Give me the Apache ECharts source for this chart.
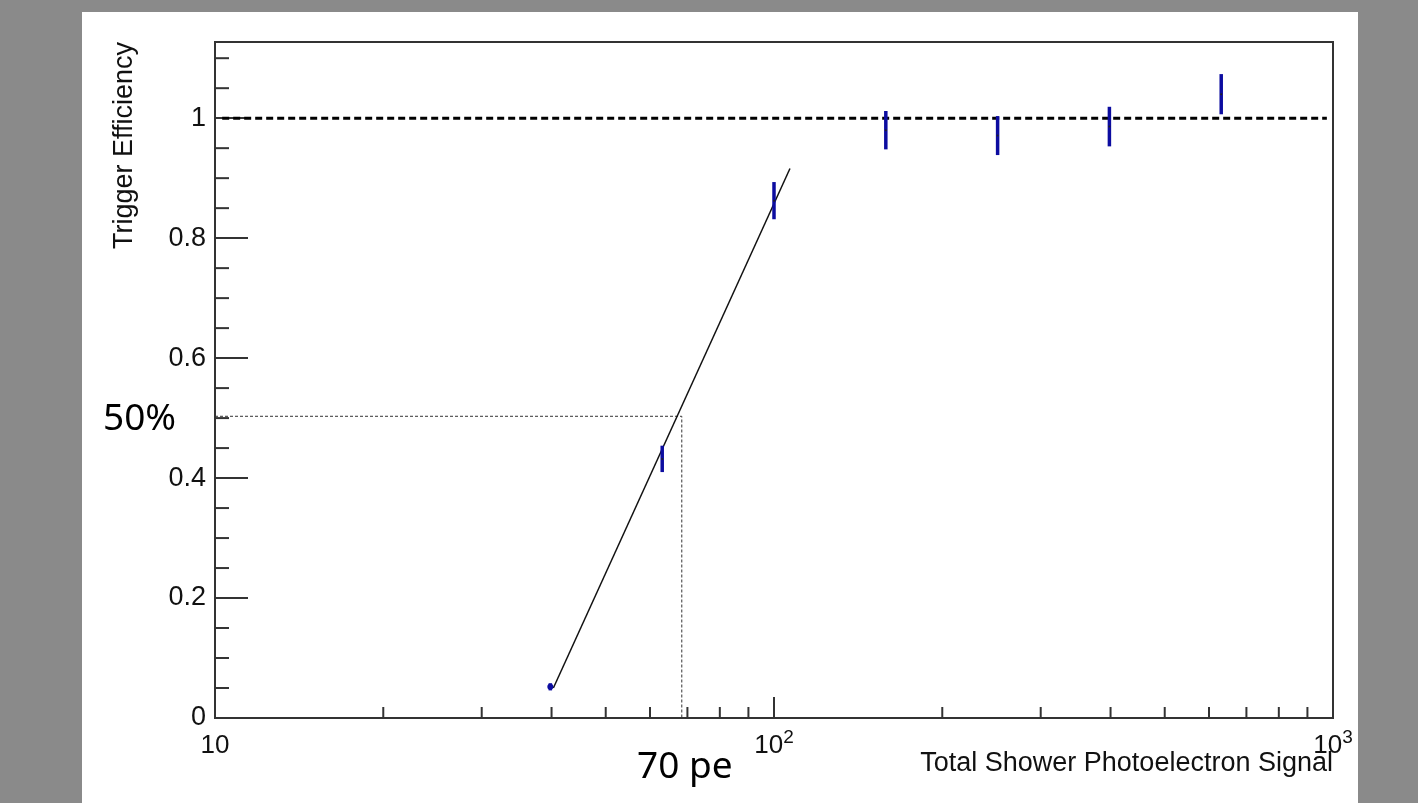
<!DOCTYPE html>
<html>
<head>
<meta charset="utf-8">
<script src="https://cdn.jsdelivr.net/npm/echarts@6.0.0/dist/echarts.min.js"></script>
<style>
  html, body { margin: 0; padding: 0; background: #8a8a8a; }
  #panel { position: absolute; left: 82px; top: 12px; width: 1276px; height: 791px; background: #fff; }
  #chart { position: absolute; left: 0; top: 0; width: 1418px; height: 803px; }
</style>
</head>
<body>
<div id="panel"></div>
<div id="chart"></div>
<script>
// trigger efficiency points (x = total pe signal)
const peSignal = [39.8, 63.1, 100, 158.5, 251.2, 398.1, 631];
const efficiency = [0.052, 0.432, 0.8625, 0.98, 0.971, 0.986, 1.04];
const effError = [0.006, 0.022, 0.031, 0.032, 0.0325, 0.033, 0.0335];

// straight fit through the turn-on
const fitX = [40.3, 106.8];
const fitY = [0.05, 0.916];

// 50% crossing
const halfX = 68.4;
const halfY = 0.503;

// plateau reference at 1
const plateauX = [10.3, 975];
const plateauY = 1;

const xMinorTicks = [20, 30, 40, 50, 60, 70, 80, 90, 200, 300, 400, 500, 600, 700, 800, 900];
const yMinorTicks = [0.05, 0.1, 0.15, 0.25, 0.3, 0.35, 0.45, 0.5, 0.55, 0.65, 0.7, 0.75, 0.85, 0.9, 0.95, 1.05, 1.1];
const xTickLabels = { 10: "{b|10}", 100: "{b|10}{s|2}", 1000: "{b|10}{s|3}" };

const axisColor = "#333";
const barColor = "#0c0ca0";
const helv = "Liberation Sans, Arial, sans-serif";

let myChart = echarts.init(document.getElementById("chart"));
myChart.setOption({
  animation: false,
  grid: {
    left: 215,
    right: 85,
    top: 42,
    bottom: 85,
    show: true,
    borderColor: axisColor,
    borderWidth: 2
  },
  xAxis: {
    type: "log",
    logBase: 10,
    min: 10,
    max: 1000,
    axisLine: { lineStyle: { color: axisColor, width: 2 } },
    axisTick: { inside: true, length: 21, lineStyle: { color: axisColor, width: 2 } },
    splitLine: { show: false },
    minorTick: { show: false },
    axisLabel: {
      margin: 10,
      showMinLabel: true,
      showMaxLabel: true,
      formatter: function (v) {
        return xTickLabels[Math.round(v)] || "";
      },
      rich: {
        b: { fontSize: 26, fontFamily: helv, color: "#111", lineHeight: 31, verticalAlign: "bottom" },
        s: { fontSize: 19, fontFamily: helv, color: "#111", lineHeight: 19, verticalAlign: "top" }
      }
    }
  },
  yAxis: {
    type: "value",
    min: 0,
    max: 1.127,
    interval: 0.2,
    axisLine: { show: true, lineStyle: { color: axisColor, width: 2 } },
    axisTick: { show: true, inside: true, length: 33, lineStyle: { color: axisColor, width: 2 } },
    splitLine: { show: false },
    axisLabel: {
      margin: 9,
      showMaxLabel: false,
      fontSize: 27,
      fontFamily: helv,
      color: "#111",
      formatter: function (v) {
        return String(Math.round(v * 10) / 10);
      }
    }
  },
  graphic: [
    {
      type: "text",
      x: 125,
      y: 42,
      rotation: Math.PI / 2,
      style: {
        text: "Trigger Efficiency",
        fontSize: 27,
        fontFamily: helv,
        fill: "#111",
        textAlign: "right",
        align: "right",
        textVerticalAlign: "middle",
        verticalAlign: "middle"
      }
    },
    {
      type: "text",
      x: 1333,
      y: 764,
      style: {
        text: "Total Shower Photoelectron Signal",
        fontSize: 27,
        fontFamily: helv,
        fill: "#111",
        textAlign: "right",
        align: "right",
        textVerticalAlign: "middle",
        verticalAlign: "middle"
      }
    },
    {
      type: "text",
      x: 103,
      y: 419,
      style: {
        text: "50%",
        fontSize: 37,
        fontFamily: "Noto Sans",
        fill: "#000",
        textAlign: "left",
        align: "left",
        textVerticalAlign: "middle",
        verticalAlign: "middle"
      }
    },
    {
      type: "text",
      x: 637,
      y: 767,
      style: {
        text: "70 pe",
        fontSize: 37,
        fontFamily: "Noto Sans",
        fill: "#000",
        textAlign: "left",
        align: "left",
        textVerticalAlign: "middle",
        verticalAlign: "middle"
      }
    }
  ],
  series: [
    {
      // minor x ticks
      type: "custom",
      silent: true,
      data: xMinorTicks.map((v) => [v, 0]),
      renderItem: function (params, api) {
        const p = api.coord([api.value(0), 0]);
        return {
          type: "line",
          shape: { x1: p[0], y1: p[1], x2: p[0], y2: p[1] - 11 },
          style: { stroke: axisColor, lineWidth: 2 }
        };
      }
    },
    {
      // minor y ticks
      type: "custom",
      silent: true,
      data: yMinorTicks.map((v) => [10, v]),
      renderItem: function (params, api) {
        const p = api.coord([10, api.value(1)]);
        return {
          type: "line",
          shape: { x1: p[0], y1: p[1], x2: p[0] + 14, y2: p[1] },
          style: { stroke: axisColor, lineWidth: 2 }
        };
      }
    },
    {
      type: "line",
      silent: true,
      showSymbol: false,
      data: [[plateauX[0], plateauY], [plateauX[1], plateauY]],
      lineStyle: { color: "#000", width: 3, type: [7, 4] }
    },
    {
      type: "line",
      silent: true,
      showSymbol: false,
      data: [[10, halfY], [halfX, halfY], [halfX, 0]],
      lineStyle: { color: "#333", width: 1, type: [3, 2] }
    },
    {
      type: "line",
      silent: true,
      showSymbol: false,
      data: fitX.map((x, i) => [x, fitY[i]]),
      lineStyle: { color: "#111", width: 1.5 }
    },
    {
      // error bars
      type: "custom",
      silent: true,
      z: 5,
      data: peSignal.map((x, i) => [x, efficiency[i], effError[i]]),
      renderItem: function (params, api) {
        const x = api.value(0);
        const y = api.value(1);
        const e = api.value(2);
        const hi = api.coord([x, y + e]);
        const lo = api.coord([x, y - e]);
        const mid = api.coord([x, y]);
        return {
          type: "group",
          children: [
            {
              type: "line",
              shape: { x1: hi[0], y1: hi[1], x2: lo[0], y2: lo[1] },
              style: { stroke: barColor, lineWidth: 3.5 }
            },
            {
              type: "circle",
              shape: { cx: mid[0], cy: mid[1], r: e < 0.01 ? 3 : 1 },
              style: { fill: e < 0.01 ? barColor : "#222" }
            }
          ]
        };
      }
    }
  ]
});
</script>
</body>
</html>
